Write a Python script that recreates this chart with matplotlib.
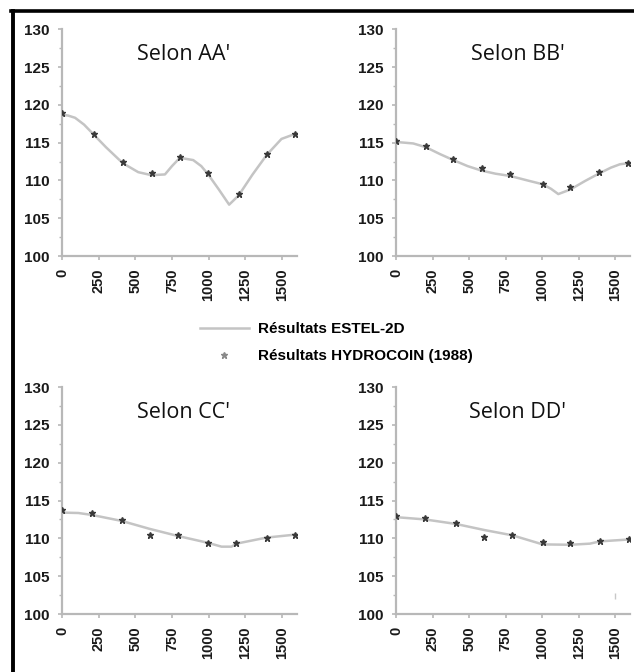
import matplotlib
matplotlib.use('Agg')
import matplotlib.pyplot as plt
from matplotlib.lines import Line2D
import numpy as np

# ESTEL-2D curves and HYDROCOIN (1988) points
titles = ["Selon AA'", "Selon BB'", "Selon CC'", "Selon DD'"]

aa_line_x = [0, 40, 89, 150, 220, 300, 414, 520, 611, 702, 750, 804, 895, 950, 997, 1070, 1140, 1204, 1300, 1397, 1497, 1595]
aa_line_y = [118.7, 118.6, 118.3, 117.4, 116.0, 114.4, 112.3, 111.1, 110.7, 110.8, 111.9, 113.0, 112.7, 111.9, 110.8, 108.8, 106.8, 108.0, 110.8, 113.4, 115.5, 116.2]
aa_pts_x = [0, 220, 414, 613, 804, 997, 1204, 1397, 1588]
aa_pts_y = [118.9, 116.2, 112.4, 110.95, 113.1, 110.95, 108.2, 113.55, 116.2]

bb_line_x = [0, 118, 205, 300, 392, 490, 586, 680, 780, 900, 1003, 1060, 1110, 1192, 1290, 1386, 1470, 1532, 1595]
bb_line_y = [115.1, 114.9, 114.4, 113.5, 112.7, 111.9, 111.3, 110.9, 110.6, 110.0, 109.5, 108.9, 108.2, 108.8, 109.9, 110.9, 111.7, 112.15, 112.3]
bb_pts_x = [0, 205, 392, 586, 780, 1003, 1192, 1386, 1587]
bb_pts_y = [115.2, 114.55, 112.9, 111.6, 110.8, 109.5, 109.1, 111.1, 112.3]

cc_line_x = [0, 111, 202, 407, 598, 793, 997, 1088, 1156, 1190, 1395, 1595]
cc_line_y = [113.4, 113.35, 113.1, 112.3, 111.25, 110.3, 109.4, 108.9, 108.9, 109.3, 110.1, 110.5]
cc_pts_x = [0, 202, 407, 598, 793, 997, 1190, 1395, 1588]
cc_pts_y = [113.7, 113.3, 112.4, 110.4, 110.5, 109.45, 109.4, 110.1, 110.5]

dd_line_x = [0, 198, 410, 604, 796, 1003, 1192, 1327, 1395, 1595]
dd_line_y = [112.8, 112.5, 111.9, 111.1, 110.4, 109.2, 109.15, 109.3, 109.6, 109.85]
dd_pts_x = [0, 198, 410, 604, 796, 1003, 1192, 1395, 1591]
dd_pts_y = [112.9, 112.7, 112.05, 110.2, 110.5, 109.5, 109.45, 109.6, 109.85]
dd_stray_x = [1500]
dd_stray_y = [102.4]

xticks = [0, 250, 500, 750, 1000, 1250, 1500]
yticks = [100, 105, 110, 115, 120, 125, 130]

line_col = '#c4c4c4'
pt_col = '#3a3a3a'
axis_col = '#b8b8b8'
tick_font = ['Liberation Sans Narrow', 'Liberation Sans', 'DejaVu Sans']

fig = plt.figure(figsize=(6.34, 6.72), dpi=100)

boxes = [[0.0978, 0.619, 0.370, 0.3373],
         [0.6246, 0.619, 0.369, 0.3373],
         [0.0978, 0.0863, 0.370, 0.3378],
         [0.6246, 0.0863, 0.369, 0.3378]]
lines = [(aa_line_x, aa_line_y), (bb_line_x, bb_line_y), (cc_line_x, cc_line_y), (dd_line_x, dd_line_y)]
pts = [(aa_pts_x, aa_pts_y), (bb_pts_x, bb_pts_y), (cc_pts_x, cc_pts_y), (dd_pts_x, dd_pts_y)]

for i in range(4):
	ax = fig.add_axes(boxes[i])
	ax.plot(lines[i][0], lines[i][1], color=line_col, lw=1.8, solid_capstyle='round', zorder=2)
	ax.plot(pts[i][0], pts[i][1], ls='none', marker='*', ms=5, color=pt_col, zorder=3)
	if i == 3:
		ax.plot(dd_stray_x, dd_stray_y, ls='none', marker='|', ms=5, color='#c8c8c8')
	ax.set_xlim(0, 1600)
	ax.set_ylim(100, 130)
	ax.set_xticks(xticks)
	ax.set_yticks(yticks)
	ax.set_yticks(np.arange(102.5, 130, 5), minor=True)
	ax.set_xticklabels([str(t) for t in xticks], rotation=90, fontsize=10.5,
		fontweight='bold', family=tick_font, color='#1a1a1a')
	ax.set_yticklabels([str(t) for t in yticks], fontsize=11,
		fontweight='bold', family=tick_font, color='#1a1a1a')
	for s in ['top', 'right']:
		ax.spines[s].set_visible(False)
	for s in ['left', 'bottom']:
		ax.spines[s].set_color(axis_col)
		ax.spines[s].set_linewidth(1.6)
	ax.tick_params(axis='both', which='major', length=3, width=1.2, color=axis_col)
	ax.tick_params(axis='y', which='minor', length=2, width=1, color=axis_col)
	ax.tick_params(axis='x', pad=6)
	ax.tick_params(axis='y', pad=6)
	ax.text(0.52, 0.887, titles[i], transform=ax.transAxes, ha='center', va='center',
		fontsize=15.5, family=['Open Sans', 'DejaVu Sans'], color='#111111')

# shared legend between the two rows
handles = [Line2D([], [], color=line_col, lw=1.8),
           Line2D([], [], ls='none', marker='*', ms=5, color='#8a8a8a')]
fig.legend(handles, ['Résultats ESTEL-2D', 'Résultats HYDROCOIN (1988)'],
	loc='center left', bbox_to_anchor=(0.3155, 0.490), frameon=False,
	borderpad=0, borderaxespad=0, handlelength=3.2, handletextpad=0.6,
	labelspacing=0.85, prop={'family': tick_font, 'weight': 'bold', 'size': 11})

# black frame on top and left
fig.add_artist(Line2D([0.0205, 0.0205], [0.0, 0.9836], color='black', lw=2.8, transform=fig.transFigure))
fig.add_artist(Line2D([0.0175, 1.0], [0.9836, 0.9836], color='black', lw=2.6, transform=fig.transFigure))

fig.savefig('out.png', dpi=100)
